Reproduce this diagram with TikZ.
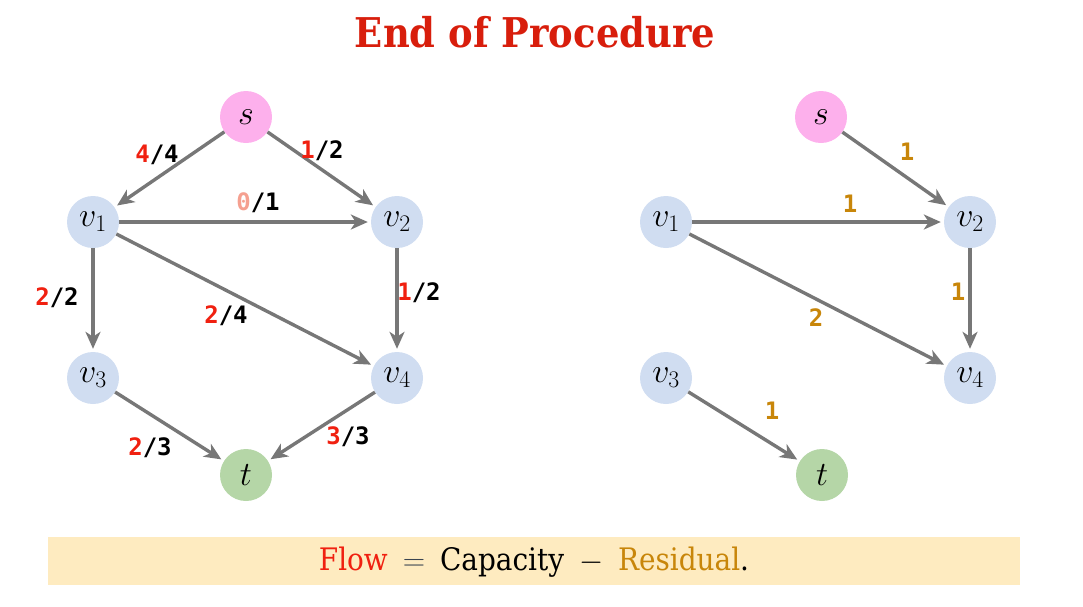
\RequirePackage{fix-cm}
\documentclass[tikz,border=0pt]{standalone}
\usepackage{fontspec}
\usetikzlibrary{arrows.meta}
\newfontfamily\titlefont{DejaVu Serif Condensed}
\newfontfamily\labfont{DejaVu Sans Mono}
\definecolor{edgegray}{HTML}{777777}
\definecolor{pinkfill}{HTML}{FDB0EC}
\definecolor{bluefill}{HTML}{D0DDF1}
\definecolor{greenfill}{HTML}{B5D6A7}
\definecolor{flowred}{HTML}{F02010}
\definecolor{zerosalmon}{HTML}{F5A090}
\definecolor{resid}{HTML}{C8860A}
\definecolor{titlered}{HTML}{D81E0C}
\definecolor{boxfill}{HTML}{FEEBC0}
\definecolor{eqgray}{HTML}{3A4450}
\tikzset{
  vnode/.style={circle, minimum size=52pt, inner sep=0pt, fill=bluefill, font=\fontsize{34}{34}\selectfont},
  snode/.style={vnode, fill=pinkfill},
  tnode/.style={vnode, fill=greenfill},
  edge/.style={draw=edgegray, line width=3.4pt, -{Stealth[length=17pt,width=15pt,inset=5pt]}, shorten >=3pt},
  lbl/.style={font=\labfont\bfseries\fontsize{24}{24}\selectfont, inner sep=0pt},
  res/.style={lbl, text=resid},
}
\begin{document}
\begin{tikzpicture}[x=1pt,y=-1pt]
\useasboundingbox (0,0) rectangle (1083,606);
\node[font=\titlefont\bfseries\fontsize{41}{41}\selectfont, text=titlered] (title) at (535,32) {End of Procedure};

% left graph
\node[snode] (s) at (246,117) {$s$};
\node[vnode] (v1) at (93,222) {$v_1$};
\node[vnode] (v2) at (397,222) {$v_2$};
\node[vnode] (v3) at (93,378) {$v_3$};
\node[vnode] (v4) at (397,378) {$v_4$};
\node[tnode] (t) at (246,475) {$t$};
\draw[edge] (s) -- (v1);
\draw[edge] (s) -- (v2);
\draw[edge] (v1) -- (v2);
\draw[edge] (v1) -- (v3);
\draw[edge] (v1) -- (v4);
\draw[edge] (v2) -- (v4);
\draw[edge] (v3) -- (t);
\draw[edge] (v4) -- (t);
\node[lbl] (l1) at (157,155) {\textcolor{flowred}{4}/4};
\node[lbl] (l2) at (322,151) {\textcolor{flowred}{1}/2};
\node[lbl] (l3) at (258,203) {\textcolor{zerosalmon}{0}/1};
\node[lbl] (l4) at (57,298) {\textcolor{flowred}{2}/2};
\node[lbl] (l5) at (226,316) {\textcolor{flowred}{2}/4};
\node[lbl] (l6) at (419,293) {\textcolor{flowred}{1}/2};
\node[lbl] (l7) at (150,448) {\textcolor{flowred}{2}/3};
\node[lbl] (l8) at (348,437) {\textcolor{flowred}{3}/3};

% right graph
\node[snode] (rs) at (821,117) {$s$};
\node[vnode] (rv1) at (666,222) {$v_1$};
\node[vnode] (rv2) at (970,222) {$v_2$};
\node[vnode] (rv3) at (666,378) {$v_3$};
\node[vnode] (rv4) at (970,378) {$v_4$};
\node[tnode] (rt) at (822,475) {$t$};
\draw[edge] (rs) -- (rv2);
\draw[edge] (rv1) -- (rv2);
\draw[edge] (rv1) -- (rv4);
\draw[edge] (rv2) -- (rv4);
\draw[edge] (rv3) -- (rt);
\node[res] (r1) at (907,152) {1};
\node[res] (r2) at (850,204) {1};
\node[res] (r3) at (958,292) {1};
\node[res] (r4) at (816,318) {2};
\node[res] (r5) at (772,411) {1};

% bottom box
\fill[boxfill] (48,537) rectangle (1020,585);
\node[font=\titlefont\fontsize{31}{31}\selectfont] (eq) at (534,562) {\textcolor{flowred}{Flow}\hspace{15pt}\textcolor{eqgray}{$\mathbf{=}$}\hspace{15pt}Capacity\hspace{15pt}$-$\hspace{15pt}\textcolor{resid}{Residual}.};
\end{tikzpicture}
\end{document}
